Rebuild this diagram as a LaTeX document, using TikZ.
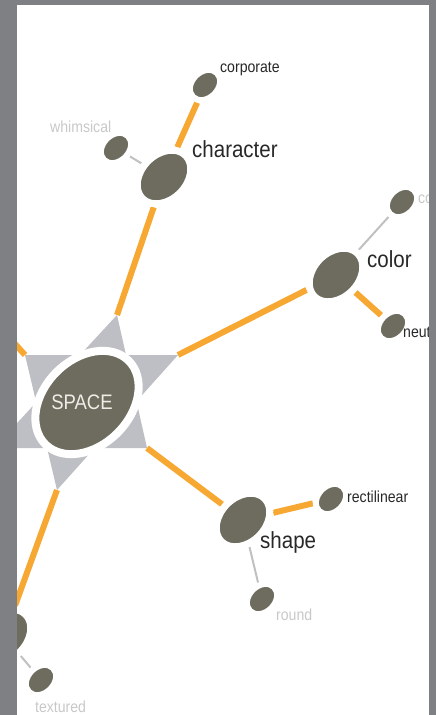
\documentclass[tikz,border=0pt]{standalone}
\usepackage{fontspec}
\usepackage{graphicx}
\newfontfamily\lblfont[FakeStretch=0.88]{Liberation Sans}
\usetikzlibrary{shapes.geometric}
\pgfdeclarelayer{bg}
\pgfdeclarelayer{lines}
\pgfdeclarelayer{fg}
\pgfsetlayers{bg,lines,main,fg}
\definecolor{nodedark}{RGB}{109,108,94}
\definecolor{linkorange}{RGB}{246,168,51}
\definecolor{stargray}{RGB}{190,191,196}
\definecolor{framegray}{RGB}{127,128,132}
\definecolor{thingray}{RGB}{192,192,192}
\definecolor{labeldark}{RGB}{40,40,40}
\definecolor{labellight}{RGB}{200,200,200}
\definecolor{spacetext}{RGB}{238,238,232}
\begin{document}
\begin{tikzpicture}[x=1pt,y=-1pt,
  hubnode/.style={ellipse, fill=nodedark, draw=white, line width=8pt, inner sep=0pt,
    minimum width=118pt, minimum height=86pt, rotate=45, text=spacetext,
    font=\lblfont\fontsize{21}{21}\selectfont},
  midnode/.style={ellipse, fill=nodedark, draw=white, line width=7pt, inner sep=0pt,
    minimum width=61pt, minimum height=45pt, rotate=45},
  leafnode/.style={ellipse, fill=nodedark, draw=white, line width=6pt, inner sep=0pt,
    minimum width=34pt, minimum height=26pt, rotate=45},
  biglabel/.style={anchor=base west, inner sep=0pt, text=labeldark,
    font=\lblfont\fontsize{23.3}{24}\selectfont},
  smalllabel/.style={anchor=base west, inner sep=0pt, text=labeldark,
    font=\lblfont\fontsize{16}{17}\selectfont},
  faintlabel/.style={smalllabel, text=labellight},
  orangeline/.style={draw=linkorange, line width=6pt},
  greyline/.style={draw=thingray, line width=2pt},
  startri/.style={fill=stargray}
]
\useasboundingbox (0,0) rectangle (436,715);

% star points
\coordinate (pLT) at (25,355);
\coordinate (pRT) at (178,355);
\coordinate (pBot) at (57,490);
\coordinate (pTop) at (117,315);
\coordinate (pRB) at (147,448);
\coordinate (pLB) at (-6,448);
\coordinate (offL) at (-10,316);

\begin{pgfonlayer}{bg}
  \fill[startri] (pLT) -- (pRT) -- (pBot) -- cycle;
  \fill[startri] (pTop) -- (pRB) -- (pLB) -- cycle;
\end{pgfonlayer}

% nodes
\node[hubnode] (space) at (87,402.5) {\rotatebox{-45}{SPACE\hspace{10pt}}};
\node[midnode] (char) at (164,177) {};
\node[leafnode] (corp) at (205,85) {};
\node[leafnode] (whim) at (116,148) {};
\node[midnode] (color) at (336,275) {};
\node[leafnode] (colorful) at (402,202) {};
\node[leafnode] (neutral) at (393,326) {};
\node[midnode] (shape) at (243,520) {};
\node[leafnode] (rect) at (331,499) {};
\node[leafnode] (round) at (262,599) {};
\node[midnode] (texture) at (4,636) {};
\node[leafnode] (textured) at (41,680) {};

% labels
\node[biglabel] (lchar) at (192,157) {character};
\node[smalllabel] (lcorp) at (220,72) {corporate};
\node[faintlabel] (lwhim) at (50,132) {whimsical};
\node[biglabel] (lcolor) at (367,267) {color};
\node[faintlabel] (lcolorful) at (418,203) {colorful};
\node[smalllabel] (lneutral) at (403,337) {neutral};
\node[biglabel] (lshape) at (260,548) {shape};
\node[smalllabel] (lrect) at (347,502) {rectilinear};
\node[faintlabel] (lround) at (276,620) {round};
\node[faintlabel] (ltextured) at (35,712) {textured};

\begin{pgfonlayer}{lines}
  \draw[orangeline] (pTop) -- (char);
  \draw[orangeline] (char) -- (corp);
  \draw[greyline] (char) -- (whim);
  \draw[orangeline] (pRT) -- (color);
  \draw[greyline] (color) -- (colorful);
  \draw[orangeline] (color) -- (neutral);
  \draw[orangeline] (pRB) -- (shape);
  \draw[orangeline] (shape) -- (rect);
  \draw[greyline] (shape) -- (round);
  \draw[orangeline] (pBot) -- (texture);
  \draw[greyline] (texture) -- (textured);
  \draw[orangeline] (pLT) -- (offL);
\end{pgfonlayer}

\begin{pgfonlayer}{fg}
  \fill[framegray] (0,0) rectangle (17,715);
  \fill[framegray] (0,0) rectangle (436,5);
  \fill[framegray] (429,0) rectangle (436,715);
\end{pgfonlayer}
\end{tikzpicture}
\end{document}
